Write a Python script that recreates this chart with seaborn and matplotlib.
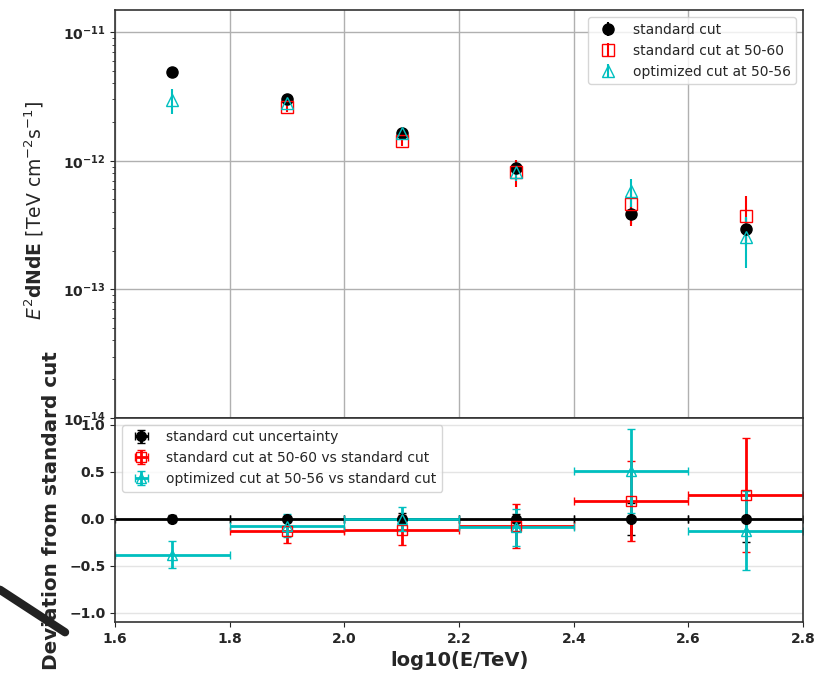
import numpy as np
import seaborn as sns
import matplotlib
matplotlib.use("Agg")
from matplotlib import pyplot as plt
from matplotlib.lines import Line2D
from matplotlib.ticker import FuncFormatter, LogLocator

# centros de bin en log10(E/TeV)
x_std = [1.7, 1.9, 2.1, 2.3, 2.5, 2.7]
x_alt = [1.9, 2.1, 2.3, 2.5, 2.7]
x_opt = [1.7, 1.9, 2.1, 2.3, 2.5, 2.7]
ancho_bin = 0.1

# E^2 dN/dE
flujo_std = [4.87e-12, 3.0e-12, 1.63e-12, 8.8e-13, 3.83e-13, 2.96e-13]
err_std = [0.2e-12, 0.1e-12, 0.08e-12, 0.5e-13, 0.6e-13, 0.6e-13]
flujo_alt = [2.63e-12, 1.43e-12, 8.2e-13, 4.6e-13, 3.74e-13]
err_alt = [0.25e-12, 0.13e-12, 2.0e-13, 1.5e-13, 1.55e-13]
flujo_opt = [2.96e-12, 2.82e-12, 1.65e-12, 8.2e-13, 5.8e-13, 2.57e-13]
err_opt = [0.65e-12, 0.15e-12, 0.12e-12, 1.2e-13, 1.4e-13, 1.1e-13]

# desviaciones relativas respecto al corte estandar
dev_std = [0.0, 0.0, 0.0, 0.0, 0.0, 0.0]
dev_err_std = [0.04, 0.03, 0.06, 0.05, 0.17, 0.25]
dev_alt = [-0.128, -0.117, -0.074, 0.19, 0.255]
dev_err_alt = [0.13, 0.16, 0.235, 0.43, 0.61]
dev_opt = [-0.383, -0.074, 0.0, -0.092, 0.51, -0.128]
dev_err_opt = [0.145, 0.12, 0.13, 0.2, 0.45, 0.42]

sns.set_style("ticks")
plt.rcParams["font.family"] = ["DejaVu Sans"]

fig = plt.figure(figsize=(8.34, 6.85), dpi=100)
ax1 = fig.add_axes([0.138, 0.390, 0.825, 0.595])
ax2 = fig.add_axes([0.138, 0.092, 0.825, 0.298], sharex=ax1)

# panel superior
ax1.errorbar(x_std, flujo_std, yerr=err_std, fmt="o", color="black", ms=8,
             label="standard cut")
ax1.errorbar(x_alt, flujo_alt, yerr=err_alt, fmt="s", color="red", mfc="none",
             ms=8, label="standard cut at 50-60")
ax1.errorbar(x_opt, flujo_opt, yerr=err_opt, fmt="^", color="c", mfc="none",
             ms=8, label="optimized cut at 50-56")
ax1.set_yscale("log")
ax1.set_ylim(1e-14, 1.48e-11)
ax1.yaxis.set_major_locator(LogLocator(base=10, numticks=10))
ax1.yaxis.set_major_formatter(
    FuncFormatter(lambda v, p: r"$\mathbf{10^{%d}}$" % int(round(np.log10(v)))))
ax1.grid(True, color="#b0b0b0", lw=1)
ax1.set_ylabel(r"$E^2$dNdE $[\mathrm{TeV\ cm^{-2}s^{-1}}]$", fontsize=13.5,
               fontweight="bold")
ax1.yaxis.set_label_coords(-0.1, 0.51)
ax1.tick_params(axis="x", labelbottom=False, length=0)
ax1.tick_params(axis="y", labelsize=10)
ax1.legend(loc="upper right", fontsize=10)

# panel inferior
kw = dict(capsize=3, elinewidth=2, lw=0)
ax2.errorbar(x_std, dev_std, xerr=ancho_bin, yerr=dev_err_std, fmt="o",
             color="black", ms=7, label="standard cut uncertainty", **kw)
ax2.errorbar(x_alt, dev_alt, xerr=ancho_bin, yerr=dev_err_alt, fmt="s",
             color="red", mfc="none", ms=7,
             label="standard cut at 50-60 vs standard cut", **kw)
ax2.errorbar(x_opt, dev_opt, xerr=ancho_bin, yerr=dev_err_opt, fmt="^",
             color="c", mfc="none", ms=7,
             label="optimized cut at 50-56 vs standard cut", **kw)
ax2.axhline(0, color="gray", ls="--", lw=0.8, zorder=0)
ax2.set_xlim(1.6, 2.8)
ax2.set_ylim(-1.1, 1.075)
ax2.set_yticks([-1.0, -0.5, 0.0, 0.5, 1.0])
ax2.grid(True, axis="y", color="#e4e4e4", lw=1)
ax2.set_xlabel("log10(E/TeV)", fontsize=14, fontweight="bold")
ax2.set_ylabel("Deviation from standard cut", fontsize=14.4, fontweight="bold")
ax2.yaxis.set_label_coords(-0.078, 0.545)
ax2.tick_params(labelsize=10)
for t in ax2.get_xticklabels() + ax2.get_yticklabels():
    t.set_fontweight("bold")
ax2.legend(loc="upper left", fontsize=10)

for ax in (ax1, ax2):
    for s in ax.spines.values():
        s.set_color("#333333")
        s.set_linewidth(1.2)

# trazo oscuro sobre la etiqueta
fig.add_artist(Line2D([0.0, 0.078], [0.139, 0.077], color="#222222", lw=6,
                      transform=fig.transFigure))

fig.savefig("out.png", dpi=100)
